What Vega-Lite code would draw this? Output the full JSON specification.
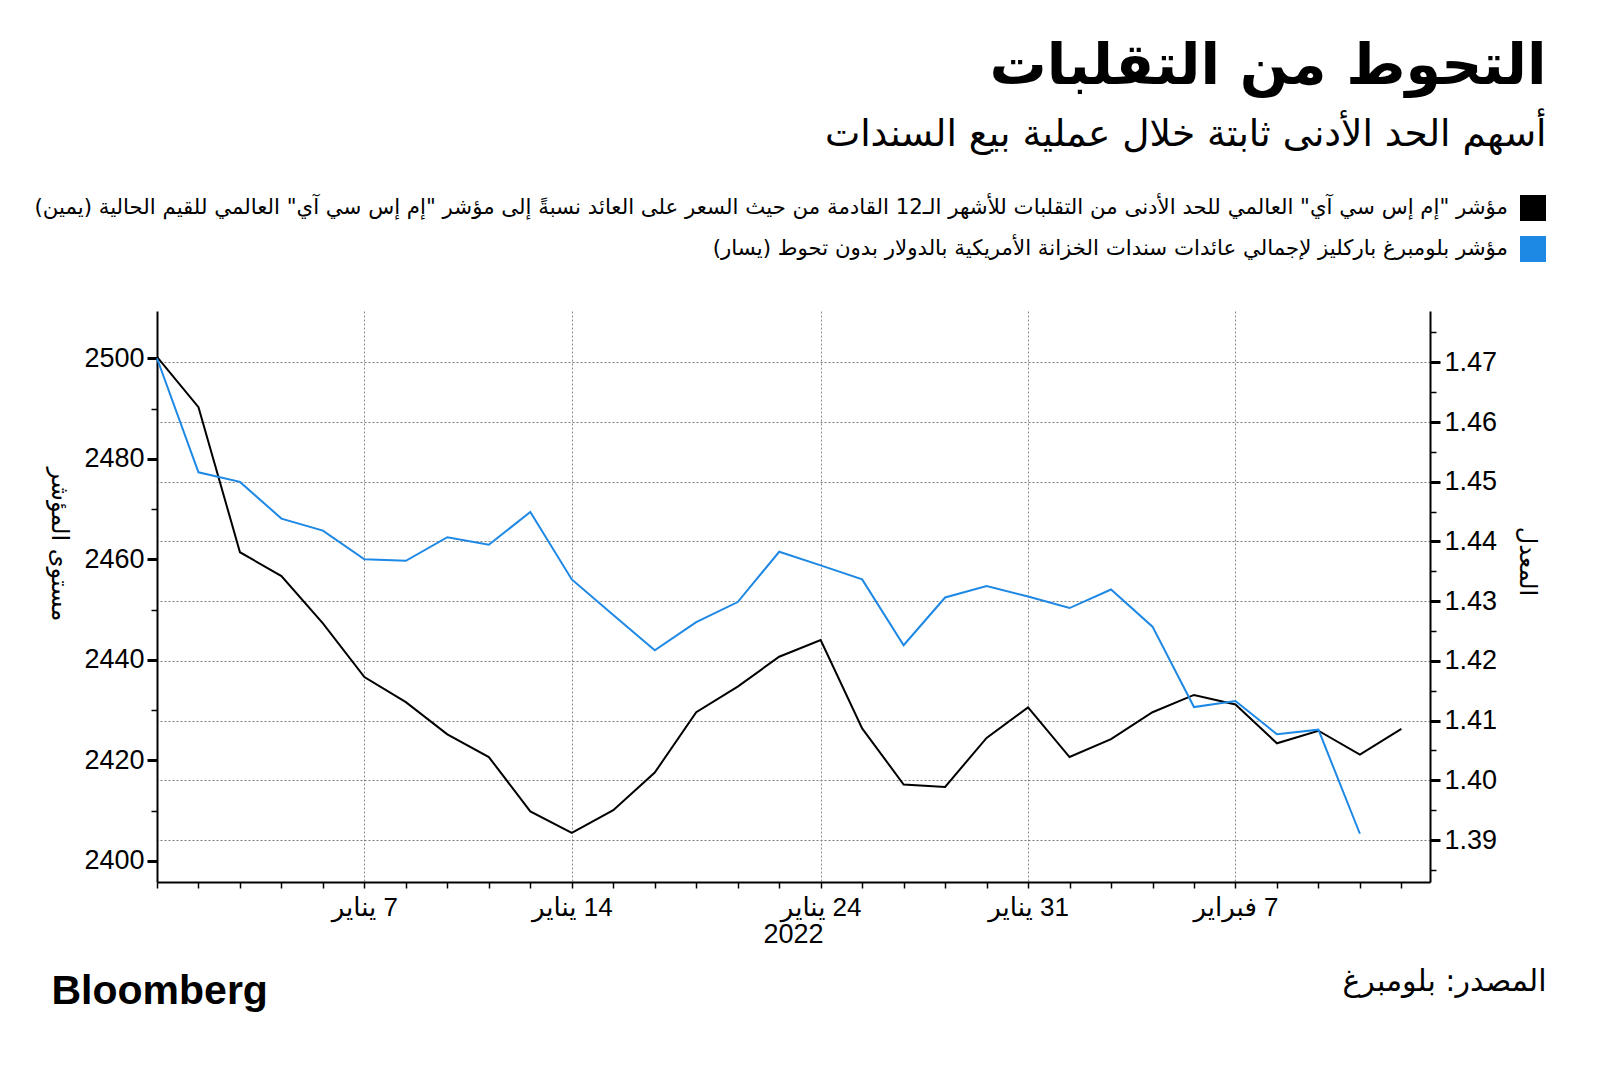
{
  "$schema": "https://vega.github.io/schema/vega-lite/v6.json",
  "width": 1273,
  "height": 571,
  "autosize": {"type": "none"},
  "padding": {"left": 157, "top": 311, "right": 170, "bottom": 187},
  "background": "white",
  "title": {
    "text": "التحوط من التقلبات",
    "subtitle": "أسهم الحد الأدنى ثابتة خلال عملية بيع السندات",
    "anchor": "end",
    "frame": "group",
    "dx": 116.5,
    "dy": -1,
    "font": "DejaVu Sans",
    "fontSize": 57,
    "fontWeight": "bold",
    "color": "black",
    "subtitleFont": "DejaVu Sans",
    "subtitleFontSize": 37.5,
    "subtitleColor": "black",
    "subtitlePadding": 20,
    "offset": 40
  },
  "data": {
    "values": [
      {"n": 0, "date": "2021-12-31", "ratio": 1.4709, "index": 2500.0},
      {"n": 1, "date": "2022-01-03", "ratio": 1.4625, "index": 2477.3},
      {"n": 2, "date": "2022-01-04", "ratio": 1.4382, "index": 2475.4},
      {"n": 3, "date": "2022-01-05", "ratio": 1.4342, "index": 2468.1},
      {"n": 4, "date": "2022-01-06", "ratio": 1.4263, "index": 2465.7},
      {"n": 5, "date": "2022-01-07", "ratio": 1.4173, "index": 2460.0},
      {"n": 6, "date": "2022-01-10", "ratio": 1.4131, "index": 2459.7},
      {"n": 7, "date": "2022-01-11", "ratio": 1.4077, "index": 2464.4},
      {"n": 8, "date": "2022-01-12", "ratio": 1.4039, "index": 2462.9},
      {"n": 9, "date": "2022-01-13", "ratio": 1.3948, "index": 2469.4},
      {"n": 10, "date": "2022-01-14", "ratio": 1.3912, "index": 2456.0},
      {"n": 11, "date": "2022-01-17", "ratio": 1.3950, "index": 2448.9},
      {"n": 12, "date": "2022-01-18", "ratio": 1.4013, "index": 2441.9},
      {"n": 13, "date": "2022-01-19", "ratio": 1.4114, "index": 2447.5},
      {"n": 14, "date": "2022-01-20", "ratio": 1.4157, "index": 2451.5},
      {"n": 15, "date": "2022-01-21", "ratio": 1.4207, "index": 2461.5},
      {"n": 16, "date": "2022-01-24", "ratio": 1.4235, "index": 2458.8},
      {"n": 17, "date": "2022-01-25", "ratio": 1.4087, "index": 2456.0},
      {"n": 18, "date": "2022-01-26", "ratio": 1.3993, "index": 2442.9},
      {"n": 19, "date": "2022-01-27", "ratio": 1.3989, "index": 2452.4},
      {"n": 20, "date": "2022-01-28", "ratio": 1.4071, "index": 2454.7},
      {"n": 21, "date": "2022-01-31", "ratio": 1.4122, "index": 2452.6},
      {"n": 22, "date": "2022-02-01", "ratio": 1.4039, "index": 2450.3},
      {"n": 23, "date": "2022-02-02", "ratio": 1.4069, "index": 2454.0},
      {"n": 24, "date": "2022-02-03", "ratio": 1.4114, "index": 2446.6},
      {"n": 25, "date": "2022-02-04", "ratio": 1.4143, "index": 2430.6},
      {"n": 26, "date": "2022-02-07", "ratio": 1.4127, "index": 2431.8},
      {"n": 27, "date": "2022-02-08", "ratio": 1.4062, "index": 2425.2},
      {"n": 28, "date": "2022-02-09", "ratio": 1.4083, "index": 2426.1},
      {"n": 29, "date": "2022-02-10", "ratio": 1.4043, "index": 2405.4},
      {"n": 30, "date": "2022-02-11", "ratio": 1.4086, "index": null}
    ]
  },
  "layer": [
    {
      "mark": {"type": "line", "strokeWidth": 2},
      "encoding": {
        "x": {
          "field": "n", "type": "quantitative",
          "scale": {"domain": [0, 30.69], "nice": false, "zero": false},
          "axis": {
            "orient": "bottom",
            "values": [0,1,2,3,4,5,6,7,8,9,10,11,12,13,14,15,16,17,18,19,20,21,22,23,24,25,26,27,28,29,30],
            "labelExpr": "datum.value == 5 ? '\u202B7 يناير\u202C' : datum.value == 10 ? '\u202B14 يناير\u202C' : datum.value == 16 ? '\u202B24 يناير\u202C' : datum.value == 21 ? '\u202B31 يناير\u202C' : datum.value == 26 ? '\u202B7 فبراير\u202C' : ''",
            "labelFont": "Liberation Sans, DejaVu Sans",
            "labelFontSize": 26,
            "labelColor": "black",
            "labelPadding": 6,
            "labelAlign": "center",
            "labelOverlap": false,
            "tickSize": 6,
            "tickWidth": 1.5,
            "tickColor": "black",
            "domainColor": "black",
            "domainWidth": 2,
            "grid": true,
            "gridColor": "#8a8a8a",
            "gridWidth": 1,
            "gridDash": [2, 2],
            "gridOpacity": {"condition": {"test": "indexof([5,10,16,21,26], datum.value) >= 0", "value": 1}, "value": 0},
            "title": "2022",
            "titleFont": "Liberation Sans",
            "titleFontSize": 27,
            "titleFontWeight": "normal",
            "titleColor": "black",
            "titleAlign": "center",
            "titleBaseline": "alphabetic",
            "titleX": 636,
            "titleY": 60
          }
        },
        "y": {
          "field": "ratio", "type": "quantitative",
          "scale": {"domain": [1.38297, 1.4786], "nice": false, "zero": false},
          "axis": {
            "orient": "right",
            "values": [1.385,1.39,1.395,1.40,1.405,1.41,1.415,1.42,1.425,1.43,1.435,1.44,1.445,1.45,1.455,1.46,1.465,1.47,1.475],
            "labelExpr": "round(datum.value*1000) % 10 == 0 ? format(datum.value, '.2f') : ''",
            "labelFont": "Liberation Sans",
            "labelFontSize": 27,
            "labelColor": "black",
            "labelPadding": 4,
            "labelOverlap": false,
            "tickColor": "black",
            "tickSize": {"condition": {"test": "round(datum.value*1000) % 10 == 0", "value": 10}, "value": 6},
            "tickWidth": {"condition": {"test": "round(datum.value*1000) % 10 == 0", "value": 3}, "value": 1.5},
            "domainColor": "black",
            "domainWidth": 2,
            "grid": true,
            "gridColor": "#7a7a7a",
            "gridWidth": 1,
            "gridDash": [2, 2],
            "gridOpacity": {"condition": {"test": "round(datum.value*1000) % 10 == 0", "value": 1}, "value": 0},
            "title": "المعدل",
            "titleFont": "DejaVu Sans",
            "titleFontSize": 24,
            "titleFontWeight": "normal",
            "titleColor": "black",
            "titleAngle": 90,
            "titleAlign": "center",
            "titleBaseline": "middle",
            "titleX": 96,
            "titleY": 250
          }
        },
        "color": {
          "datum": "\u202Bمؤشر \"إم إس سي آي\" العالمي للحد الأدنى من التقلبات للأشهر الـ12 القادمة من حيث السعر على العائد نسبةً إلى مؤشر \"إم إس سي آي\" العالمي للقيم الحالية (يمين)\u202C",
          "type": "nominal",
          "scale": {
            "domain": [
              "\u202Bمؤشر \"إم إس سي آي\" العالمي للحد الأدنى من التقلبات للأشهر الـ12 القادمة من حيث السعر على العائد نسبةً إلى مؤشر \"إم إس سي آي\" العالمي للقيم الحالية (يمين)\u202C",
              "\u202Bمؤشر بلومبرغ باركليز لإجمالي عائدات سندات الخزانة الأمريكية بالدولار بدون تحوط (يسار)\u202C"
            ],
            "range": ["#000000", "#1e88e5"]
          },
          "legend": {
            "orient": "none",
            "legendX": 1363,
            "legendY": -116,
            "title": null,
            "padding": 0,
            "symbolType": "square",
            "symbolSize": 676,
            "symbolStrokeWidth": 0,
            "symbolFillColor": {"expr": "scale('color', datum.value)"},
            "symbolOpacity": 1,
            "labelAlign": "right",
            "labelOffset": -38,
            "labelFont": "DejaVu Sans",
            "labelFontSize": 21.3,
            "labelColor": "black",
            "labelLimit": 3000,
            "rowPadding": 15
          }
        }
      }
    },
    {
      "mark": {"type": "line", "strokeWidth": 2},
      "encoding": {
        "x": {
          "field": "n", "type": "quantitative",
          "axis": {
            "orient": "bottom",
            "domain": false, "ticks": false, "labels": false, "grid": false,
            "title": "المصدر: بلومبرغ",
            "titleFont": "DejaVu Sans",
            "titleFontSize": 30,
            "titleFontWeight": "normal",
            "titleColor": "black",
            "titleAlign": "right",
            "titleBaseline": "alphabetic",
            "titleX": 1389,
            "titleY": 108
          }
        },
        "y": {
          "field": "index", "type": "quantitative",
          "scale": {"domain": [2395.8, 2509.4], "nice": false, "zero": false},
          "axis": {
            "orient": "left",
            "values": [2400,2410,2420,2430,2440,2450,2460,2470,2480,2490,2500],
            "labelExpr": "datum.value % 20 == 0 ? datum.label : ''",
            "format": "d",
            "labelFont": "Liberation Sans",
            "labelFontSize": 27,
            "labelColor": "black",
            "labelPadding": 3,
            "labelOverlap": false,
            "tickColor": "black",
            "tickSize": {"condition": {"test": "datum.value % 20 == 0", "value": 10}, "value": 6},
            "tickWidth": {"condition": {"test": "datum.value % 20 == 0", "value": 3}, "value": 1.5},
            "domainColor": "black",
            "domainWidth": 2,
            "grid": false,
            "title": "مستوى المؤشر",
            "titleFont": "DejaVu Sans",
            "titleFontSize": 24,
            "titleFontWeight": "normal",
            "titleColor": "black",
            "titleAngle": 90,
            "titleAlign": "center",
            "titleBaseline": "middle",
            "titleX": -99,
            "titleY": 233
          }
        },
        "color": {
          "datum": "\u202Bمؤشر بلومبرغ باركليز لإجمالي عائدات سندات الخزانة الأمريكية بالدولار بدون تحوط (يسار)\u202C",
          "type": "nominal"
        }
      }
    },
    {
      "mark": {"type": "line", "strokeWidth": 2, "strokeOpacity": 0},
      "encoding": {
        "x": {
          "field": "n", "type": "quantitative",
          "axis": {
            "orient": "bottom",
            "domain": false, "ticks": false, "labels": false, "grid": false,
            "title": "Bloomberg",
            "titleFont": "Liberation Sans",
            "titleFontSize": 41,
            "titleFontWeight": "bold",
            "titleColor": "black",
            "titleAlign": "left",
            "titleBaseline": "alphabetic",
            "titleX": -106,
            "titleY": 121
          }
        },
        "y": {
          "field": "index", "type": "quantitative",
          "scale": {"domain": [2395.8, 2509.4], "nice": false, "zero": false},
          "axis": null
        }
      }
    }
  ],
  "resolve": {
    "scale": {"y": "independent"},
    "axis": {"x": "independent", "y": "independent"}
  },
  "config": {
    "view": {"stroke": null},
    "font": "Liberation Sans, DejaVu Sans"
  }
}
